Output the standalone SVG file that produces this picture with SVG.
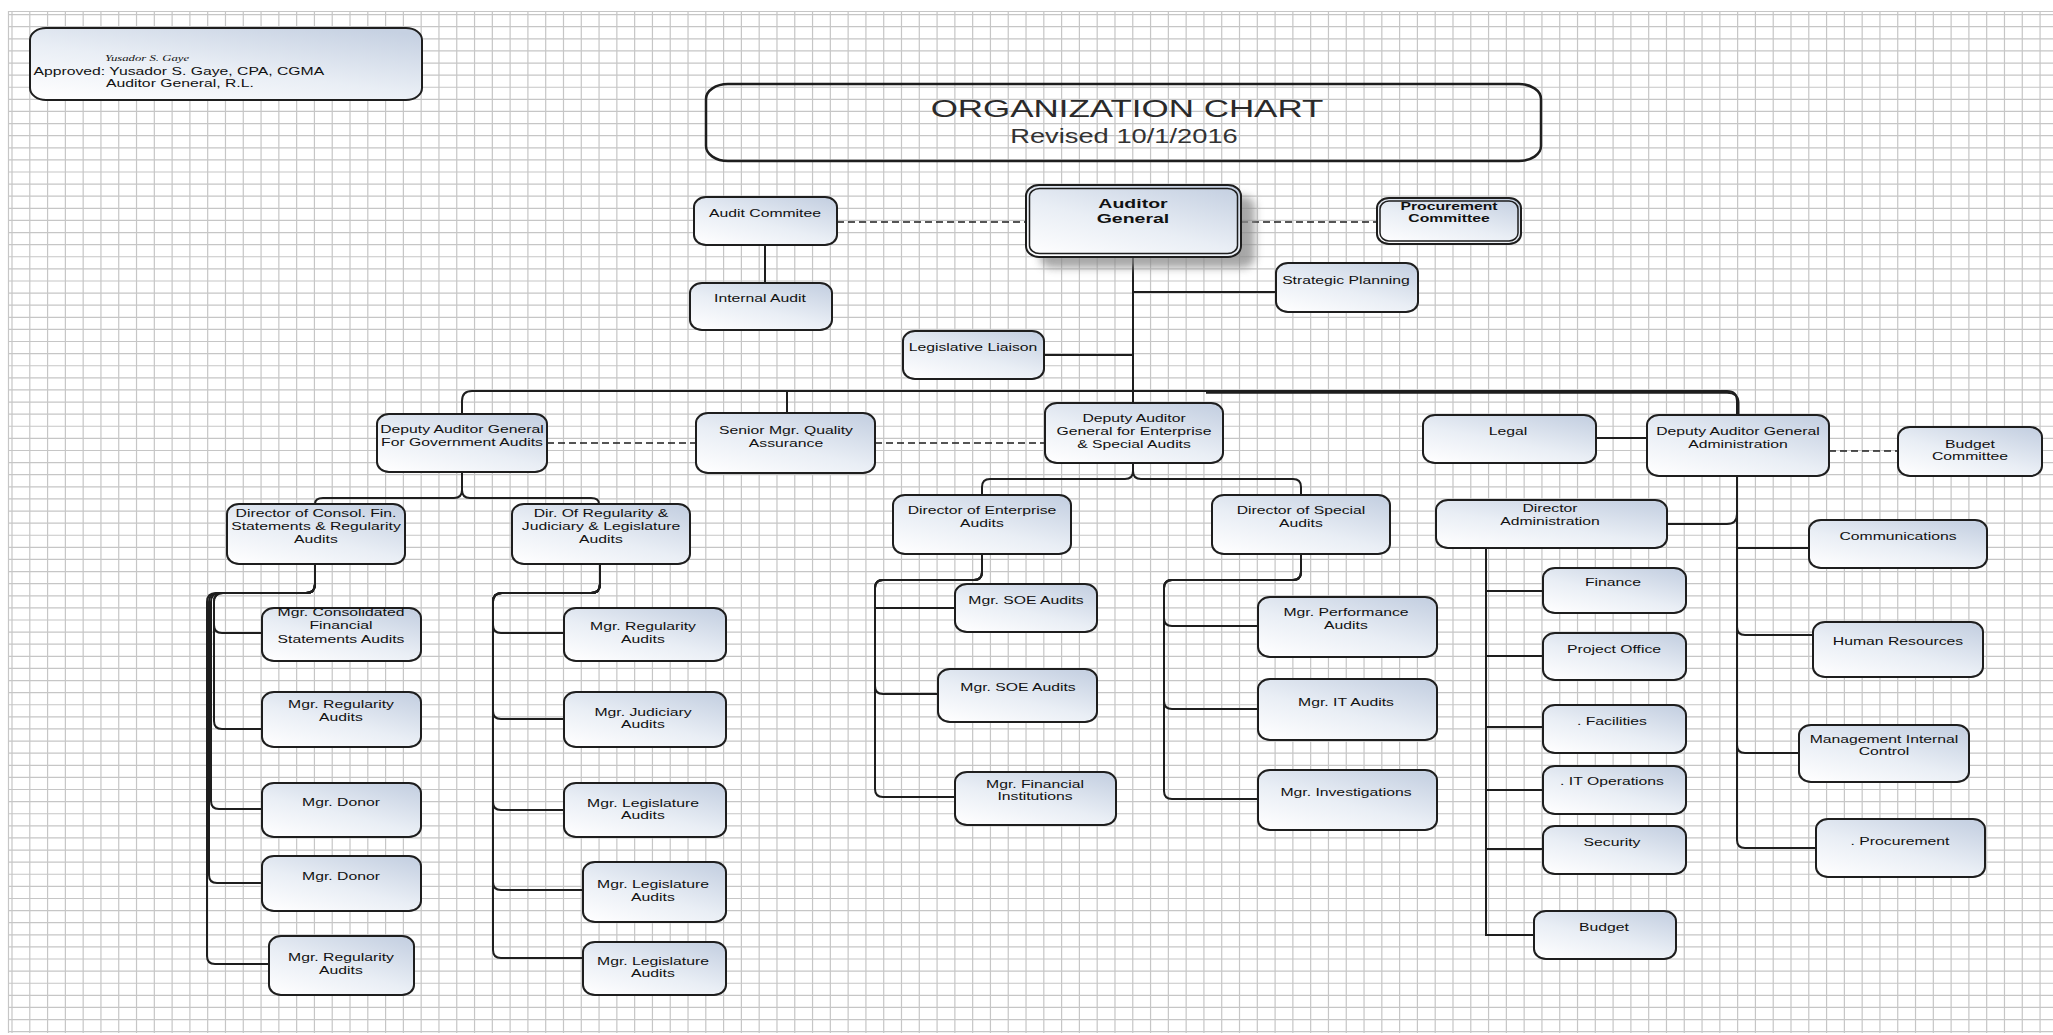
<svg xmlns="http://www.w3.org/2000/svg" width="2053" height="1035" viewBox="0 0 2053 1035">
<defs>
<linearGradient id="g" x1="0.15" y1="1" x2="0.85" y2="0">
<stop offset="0" stop-color="#fdfdfe"/>
<stop offset="0.45" stop-color="#e9eef5"/>
<stop offset="1" stop-color="#c6d1e2"/>
</linearGradient>
<filter id="sh" x="-20%" y="-30%" width="150%" height="170%"><feGaussianBlur stdDeviation="4"/></filter>
<style>
.n{fill:url(#g);stroke:#1e1e1e;stroke-width:2}
.c{fill:none;stroke:#1e1e1e;stroke-width:2}
.d{fill:none;stroke:#1e1e1e;stroke-width:1.6;stroke-dasharray:7 4}
.t{font-family:"Liberation Sans",Arial,sans-serif;font-size:10.5px;fill:#111;text-anchor:middle}
.b{font-weight:bold}
.l{text-anchor:start}
.gr{stroke:#c6c6c6;fill:none}
</style>
</defs>
<rect width="2053" height="1035" fill="#ffffff"/>
<g id="grid">
<line class="gr" x1="11.4" y1="522" x2="2053" y2="522" stroke-width="1022" stroke-dasharray="1.2 16.59"/>
<line class="gr" x1="1030.5" y1="14" x2="1030.5" y2="1033" stroke-width="2045" stroke-dasharray="1.2 10.908"/>
<path class="gr" stroke-width="1.2" d="M8.5 11V1033M8 11.5H2053"/>
</g>

<g id="connectors">
<path class="d" d="M837 222H1026"/>
<path class="d" d="M1241 222H1377"/>
<path class="d" d="M547 443H696"/>
<path class="d" d="M875 443H1045"/>
<path class="d" d="M1829 451H1898"/>
<path class="c" d="M765 245V283"/>
<path class="c" d="M1133 257V403"/>
<path class="c" d="M1133 292H1276"/>
<path class="c" d="M1044 355H1133"/>
<path class="c" d="M462 414V401Q462 391 472 391H1727Q1737 391 1737 401V415"/>
<path class="c" d="M1206 392.8H1727Q1738.5 392.8 1738.5 403V415"/>
<path class="c" d="M787 391V413"/>
<path class="c" d="M1596 438H1647"/>
<path class="c" d="M462 472V490Q462 498 454 498H323Q315 498 315 504"/>
<path class="c" d="M462 490Q462 498 470 498H591Q599 498 599 504"/>
<path class="c" d="M315 564V584Q315 593 306 593H223Q214 593 214 602V625Q214 633 222 633H262"/>
<path class="c" d="M315 564V584Q315 593 306 593H223Q214 593 214 602V721Q214 729 222 729H262"/>
<path class="c" d="M315 564V584Q315 593 306 593H220Q211 593 211 602V801Q211 809 219 809H262"/>
<path class="c" d="M315 564V584Q315 593 306 593H218Q209 593 209 602V875Q209 883 217 883H262"/>
<path class="c" d="M315 564V584Q315 593 306 593H216Q207 593 207 602V956Q207 964 215 964H269"/>
<path class="c" d="M600 564V584Q600 593 591 593H502Q493 593 493 602V625Q493 633 501 633H564"/>
<path class="c" d="M600 564V584Q600 593 591 593H502Q493 593 493 602V711Q493 719 501 719H564"/>
<path class="c" d="M600 564V584Q600 593 591 593H502Q493 593 493 602V802Q493 810 501 810H564"/>
<path class="c" d="M600 564V584Q600 593 591 593H502Q493 593 493 602V882Q493 890 501 890H583"/>
<path class="c" d="M600 564V584Q600 593 591 593H502Q493 593 493 602V950Q493 958 501 958H583"/>
<path class="c" d="M1133 463V471Q1133 479 1125 479H990Q982 479 982 487V495"/>
<path class="c" d="M1133 471Q1133 479 1141 479H1293Q1301 479 1301 487V495"/>
<path class="c" d="M982 554V572Q982 580 974 580H883Q875 580 875 588V608H955"/>
<path class="c" d="M982 554V572Q982 580 974 580H883Q875 580 875 588V686Q875 694 883 694H938"/>
<path class="c" d="M982 554V572Q982 580 974 580H883Q875 580 875 588V789Q875 797 883 797H955"/>
<path class="c" d="M1301 554V572Q1301 580 1293 580H1172Q1164 580 1164 588V618Q1164 626 1172 626H1258"/>
<path class="c" d="M1301 554V572Q1301 580 1293 580H1172Q1164 580 1164 588V701Q1164 709 1172 709H1258"/>
<path class="c" d="M1301 554V572Q1301 580 1293 580H1172Q1164 580 1164 588V791Q1164 799 1172 799H1258"/>
<path class="c" d="M1737 476V514Q1737 524 1727 524H1667"/>
<path class="c" d="M1737 476V548H1809"/>
<path class="c" d="M1737 476V627Q1737 635 1745 635H1813"/>
<path class="c" d="M1737 476V745Q1737 753 1745 753H1799"/>
<path class="c" d="M1737 476V840Q1737 848 1745 848H1816"/>
<path class="c" d="M1486 548V591H1543"/>
<path class="c" d="M1486 548V656H1543"/>
<path class="c" d="M1486 548V727H1543"/>
<path class="c" d="M1486 548V790H1543"/>
<path class="c" d="M1486 548V849H1543"/>
<path class="c" d="M1486 548V935H1534"/>
</g>

<g id="approval">
<rect class="n" x="30" y="28" width="392" height="72" rx="16" ry="12"/>
<text class="t l" transform="translate(105 61) scale(1.5 1)" style="font-family:'Liberation Serif',serif;font-style:italic;font-size:8.5px">Yusador S. Gaye</text>
<text class="t l" transform="translate(33.5 74.5) scale(1.5 1)">Approved: Yusador S. Gaye, CPA, CGMA</text>
<text class="t l" transform="translate(106 86.5) scale(1.5 1)">Auditor General, R.L.</text>
</g>

<g id="title">
<rect x="706" y="84" width="835" height="77" rx="22" ry="15" fill="none" stroke="#1e1e1e" stroke-width="2.5"/>
<text class="t" transform="translate(1127 117) scale(1.5 1)" style="font-size:23.3px;fill:#2a2a2a">ORGANIZATION CHART</text>
<text class="t" transform="translate(1124 143) scale(1.4 1)" style="font-size:19.5px;fill:#333">Revised 10/1/2016</text>
</g>

<g id="audit_committee">
<rect class="n" x="694" y="197" width="143" height="48" rx="12" ry="10"/>
<text class="t" transform="translate(765 217) scale(1.5 1)">Audit Commitee</text>
</g>

<g id="auditor_general">
<rect x="1040" y="196" width="215" height="72" rx="12" ry="10" fill="#8a8a8a" opacity="0.75" filter="url(#sh)"/>
<rect class="n" x="1026" y="185" width="215" height="72" rx="13" ry="11"/>
<rect x="1029.5" y="188.5" width="208" height="65" rx="10" ry="8" fill="none" stroke="#1e1e1e" stroke-width="1.5"/>
<text class="t b" transform="translate(1133 208) scale(1.5 1)" style="font-size:13px">Auditor<tspan x="0" dy="15">General</tspan></text>
</g>

<g id="procurement_committee">
<rect class="n" x="1377" y="198" width="144" height="46" rx="12" ry="10"/>
<rect x="1380" y="201" width="138" height="40" rx="9" ry="8" fill="none" stroke="#1e1e1e" stroke-width="1.5"/>
<text class="t b" transform="translate(1449 210) scale(1.5 1)">Procurement<tspan x="0" dy="12">Committee</tspan></text>
</g>

<g id="internal_audit">
<rect class="n" x="690" y="283" width="142" height="47" rx="12" ry="10"/>
<text class="t" transform="translate(760 302) scale(1.5 1)">Internal Audit</text>
</g>

<g id="strategic_planning">
<rect class="n" x="1276" y="263" width="142" height="49" rx="12" ry="10"/>
<text class="t" transform="translate(1346 284) scale(1.5 1)">Strategic Planning</text>
</g>

<g id="legislative_liaison">
<rect class="n" x="903" y="331" width="141" height="48" rx="12" ry="10"/>
<text class="t" transform="translate(973 351) scale(1.5 1)">Legislative Liaison</text>
</g>

<g id="dep_gov">
<rect class="n" x="377" y="414" width="170" height="58" rx="12" ry="10"/>
<text class="t" transform="translate(462 433) scale(1.5 1)">Deputy Auditor General<tspan x="0" dy="13">For Government Audits</tspan></text>
</g>

<g id="senior_qa">
<rect class="n" x="696" y="413" width="179" height="60" rx="12" ry="10"/>
<text class="t" transform="translate(786 434) scale(1.5 1)">Senior Mgr. Quality<tspan x="0" dy="13">Assurance</tspan></text>
</g>

<g id="dep_ent">
<rect class="n" x="1045" y="403" width="178" height="60" rx="12" ry="10"/>
<text class="t" transform="translate(1134 422) scale(1.5 1)">Deputy Auditor<tspan x="0" dy="13">General for Enterprise</tspan><tspan x="0" dy="13">&amp; Special Audits</tspan></text>
</g>

<g id="legal">
<rect class="n" x="1423" y="415" width="173" height="48" rx="12" ry="10"/>
<text class="t" transform="translate(1508 435) scale(1.5 1)">Legal</text>
</g>

<g id="dep_admin">
<rect class="n" x="1647" y="415" width="182" height="61" rx="12" ry="10"/>
<text class="t" transform="translate(1738 435) scale(1.5 1)">Deputy Auditor General<tspan x="0" dy="13">Administration</tspan></text>
</g>

<g id="budget_committee">
<rect class="n" x="1898" y="427" width="144" height="49" rx="12" ry="10"/>
<text class="t" transform="translate(1970 448) scale(1.5 1)">Budget<tspan x="0" dy="12.5">Committee</tspan></text>
</g>

<g id="dir_consol">
<rect class="n" x="227" y="504" width="178" height="60" rx="12" ry="10"/>
<text class="t" transform="translate(316 517) scale(1.5 1)">Director of Consol. Fin.<tspan x="0" dy="13">Statements &amp; Regularity</tspan><tspan x="0" dy="13">Audits</tspan></text>
</g>

<g id="dir_reg">
<rect class="n" x="512" y="504" width="178" height="60" rx="12" ry="10"/>
<text class="t" transform="translate(601 517) scale(1.5 1)">Dir. Of Regularity &amp;<tspan x="0" dy="13">Judiciary &amp; Legislature</tspan><tspan x="0" dy="13">Audits</tspan></text>
</g>

<g id="dir_ent">
<rect class="n" x="893" y="495" width="178" height="59" rx="12" ry="10"/>
<text class="t" transform="translate(982 514) scale(1.5 1)">Director of Enterprise<tspan x="0" dy="13">Audits</tspan></text>
</g>

<g id="dir_spec">
<rect class="n" x="1212" y="495" width="178" height="59" rx="12" ry="10"/>
<text class="t" transform="translate(1301 514) scale(1.5 1)">Director of Special<tspan x="0" dy="13">Audits</tspan></text>
</g>

<g id="dir_admin">
<rect class="n" x="1436" y="500" width="231" height="48" rx="12" ry="10"/>
<text class="t" transform="translate(1550 512) scale(1.5 1)">Director<tspan x="0" dy="13">Administration</tspan></text>
</g>

<g id="communications">
<rect class="n" x="1809" y="520" width="178" height="48" rx="12" ry="10"/>
<text class="t" transform="translate(1898 540) scale(1.5 1)">Communications</text>
</g>

<g id="finance">
<rect class="n" x="1543" y="568" width="143" height="45" rx="12" ry="10"/>
<text class="t" transform="translate(1613 585.5) scale(1.5 1)">Finance</text>
</g>

<g id="human_resources">
<rect class="n" x="1813" y="622" width="170" height="55" rx="12" ry="10"/>
<text class="t" transform="translate(1898 644.5) scale(1.5 1)">Human Resources</text>
</g>

<g id="project_office">
<rect class="n" x="1543" y="633" width="143" height="47" rx="12" ry="10"/>
<text class="t" transform="translate(1614 652.5) scale(1.5 1)">Project Office</text>
</g>

<g id="facilities">
<rect class="n" x="1543" y="705" width="143" height="48" rx="12" ry="10"/>
<text class="t" transform="translate(1612 725) scale(1.5 1)">. Facilities</text>
</g>

<g id="mgmt_internal_control">
<rect class="n" x="1799" y="725" width="170" height="57" rx="12" ry="10"/>
<text class="t" transform="translate(1884 743) scale(1.5 1)">Management Internal<tspan x="0" dy="12.5">Control</tspan></text>
</g>

<g id="it_operations">
<rect class="n" x="1543" y="766" width="143" height="48" rx="12" ry="10"/>
<text class="t" transform="translate(1612 785) scale(1.5 1)">. IT Operations</text>
</g>

<g id="security">
<rect class="n" x="1543" y="826" width="143" height="48" rx="12" ry="10"/>
<text class="t" transform="translate(1612 845.5) scale(1.5 1)">Security</text>
</g>

<g id="procurement">
<rect class="n" x="1816" y="819" width="169" height="58" rx="12" ry="10"/>
<text class="t" transform="translate(1900 844.5) scale(1.5 1)">. Procurement</text>
</g>

<g id="budget">
<rect class="n" x="1534" y="911" width="142" height="48" rx="12" ry="10"/>
<text class="t" transform="translate(1604 930.5) scale(1.5 1)">Budget</text>
</g>

<g id="mgr_consolidated">
<rect class="n" x="262" y="608" width="159" height="53" rx="12" ry="10"/>
<text class="t" transform="translate(341 616) scale(1.5 1)">Mgr. Consolidated<tspan x="0" dy="13.5">Financial</tspan><tspan x="0" dy="13.5">Statements Audits</tspan></text>
</g>

<g id="mgr_regularity_1">
<rect class="n" x="262" y="692" width="159" height="55" rx="12" ry="10"/>
<text class="t" transform="translate(341 708) scale(1.5 1)">Mgr. Regularity<tspan x="0" dy="13.5">Audits</tspan></text>
</g>

<g id="mgr_donor_1">
<rect class="n" x="262" y="783" width="159" height="54" rx="12" ry="10"/>
<text class="t" transform="translate(341 806) scale(1.5 1)">Mgr. Donor</text>
</g>

<g id="mgr_donor_2">
<rect class="n" x="262" y="856" width="159" height="55" rx="12" ry="10"/>
<text class="t" transform="translate(341 880) scale(1.5 1)">Mgr. Donor</text>
</g>

<g id="mgr_regularity_2">
<rect class="n" x="269" y="936" width="145" height="59" rx="12" ry="10"/>
<text class="t" transform="translate(341 960.5) scale(1.5 1)">Mgr. Regularity<tspan x="0" dy="13.5">Audits</tspan></text>
</g>

<g id="mgr_regularity_3">
<rect class="n" x="564" y="608" width="162" height="53" rx="12" ry="10"/>
<text class="t" transform="translate(643 630) scale(1.5 1)">Mgr. Regularity<tspan x="0" dy="13">Audits</tspan></text>
</g>

<g id="mgr_judiciary">
<rect class="n" x="564" y="692" width="162" height="55" rx="12" ry="10"/>
<text class="t" transform="translate(643 716) scale(1.5 1)">Mgr. Judiciary<tspan x="0" dy="12.5">Audits</tspan></text>
</g>

<g id="mgr_legislature_1">
<rect class="n" x="564" y="783" width="162" height="54" rx="12" ry="10"/>
<text class="t" transform="translate(643 806.5) scale(1.5 1)">Mgr. Legislature<tspan x="0" dy="13">Audits</tspan></text>
</g>

<g id="mgr_legislature_2">
<rect class="n" x="583" y="862" width="143" height="60" rx="12" ry="10"/>
<text class="t" transform="translate(653 888) scale(1.5 1)">Mgr. Legislature<tspan x="0" dy="13">Audits</tspan></text>
</g>

<g id="mgr_legislature_3">
<rect class="n" x="583" y="942" width="143" height="53" rx="12" ry="10"/>
<text class="t" transform="translate(653 964.5) scale(1.5 1)">Mgr. Legislature<tspan x="0" dy="12.5">Audits</tspan></text>
</g>

<g id="mgr_soe_1">
<rect class="n" x="955" y="584" width="142" height="48" rx="12" ry="10"/>
<text class="t" transform="translate(1026 604) scale(1.5 1)">Mgr. SOE Audits</text>
</g>

<g id="mgr_soe_2">
<rect class="n" x="938" y="669" width="159" height="53" rx="12" ry="10"/>
<text class="t" transform="translate(1018 691) scale(1.5 1)">Mgr. SOE Audits</text>
</g>

<g id="mgr_financial_institutions">
<rect class="n" x="955" y="772" width="161" height="53" rx="12" ry="10"/>
<text class="t" transform="translate(1035 788) scale(1.5 1)">Mgr. Financial<tspan x="0" dy="12.5">Institutions</tspan></text>
</g>

<g id="mgr_performance">
<rect class="n" x="1258" y="597" width="179" height="60" rx="12" ry="10"/>
<text class="t" transform="translate(1346 615.5) scale(1.5 1)">Mgr. Performance<tspan x="0" dy="13.5">Audits</tspan></text>
</g>

<g id="mgr_it_audits">
<rect class="n" x="1258" y="679" width="179" height="61" rx="12" ry="10"/>
<text class="t" transform="translate(1346 705.5) scale(1.5 1)">Mgr. IT Audits</text>
</g>

<g id="mgr_investigations">
<rect class="n" x="1258" y="770" width="179" height="60" rx="12" ry="10"/>
<text class="t" transform="translate(1346 796) scale(1.5 1)">Mgr. Investigations</text>
</g>
</svg>
